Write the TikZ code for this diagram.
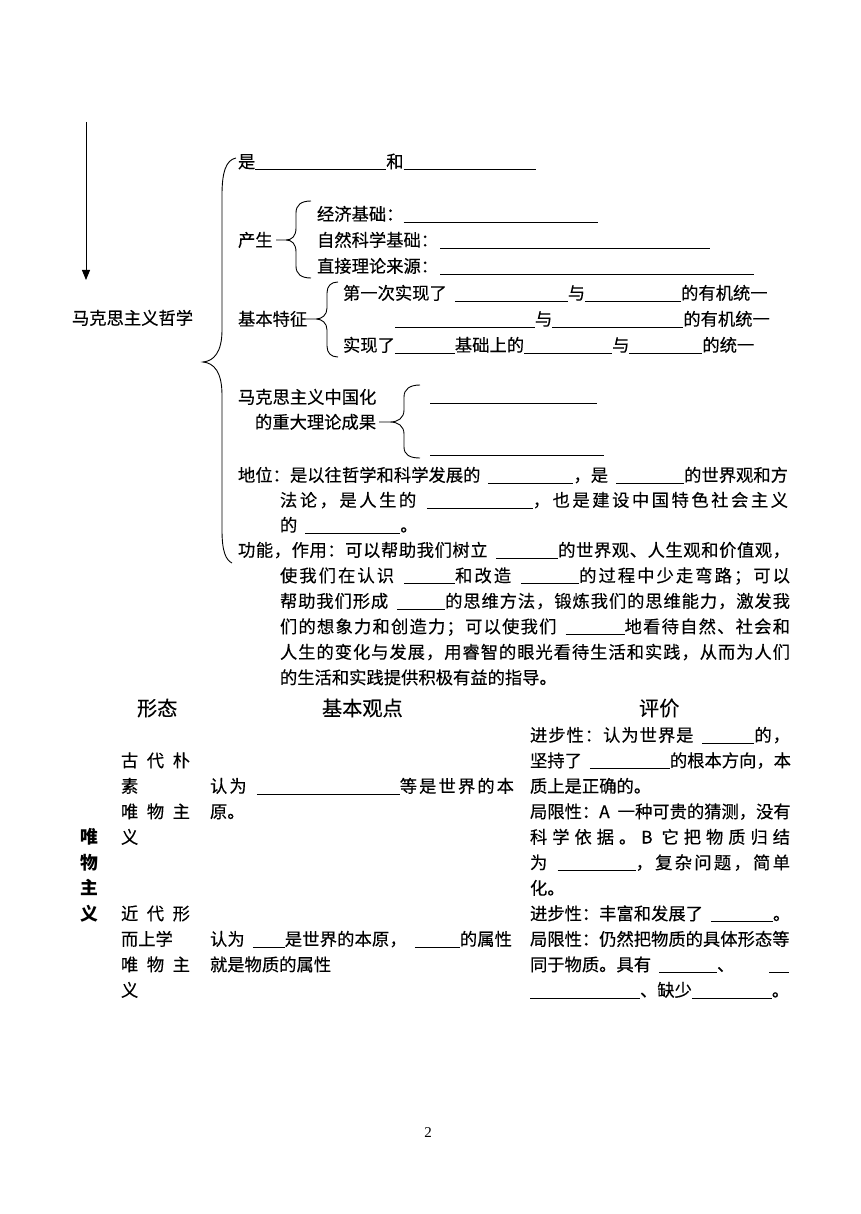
\documentclass[tikz,border=0pt]{standalone}
\usepackage{fontspec}
\usetikzlibrary{arrows.meta}
\setmainfont[FakeBold=0.3]{Noto Sans CJK SC}
\newfontfamily\timesfont{Liberation Serif}
\newfontfamily\boldcjk{Noto Sans CJK SC}
\XeTeXinterchartokenstate=1
\makeatletter
\count@="3000
\loop \XeTeXcharclass\count@=7 \ifnum\count@<"303F \advance\count@ 1 \repeat
\count@="4E00
\loop \XeTeXcharclass\count@=7 \ifnum\count@<"9FFF \advance\count@ 1 \repeat
\count@="FF00
\loop \XeTeXcharclass\count@=7 \ifnum\count@<"FFEF \advance\count@ 1 \repeat
\makeatother
\XeTeXinterchartoks 7 7 = {\hskip0pt plus 1pt\relax}
\newcommand\blank[1]{\rule[-2.2pt]{#1pt}{0.9pt}}
\newcommand\jline[2]{\makebox[#1pt][s]{#2}}
\newcommand\gap{\hskip 8pt plus 1pt\relax}
\newcommand\sgl{\hskip 0pt plus 1pt\relax}
\tikzset{
  txt/.style={inner sep=0pt, outer sep=0pt, anchor=base west, font=\fontsize{17.3}{20}\selectfont},
  hdr/.style={txt, font=\fontsize{20.2}{24}\selectfont},
  bold/.style={txt, font=\boldcjk\fontsize{17.8}{20}\selectfont\bfseries},
  brc/.style={line width=0.9pt},
}
\begin{document}
\begin{tikzpicture}[x=1pt,y=-1pt]
\useasboundingbox (0,0) rectangle (860,1214);
\fill[white] (0,0) rectangle (860,1214);
% arrow
\coordinate (atop) at (86,122);
\coordinate (abot) at (86,280);
\draw[line width=0.9pt, -{Triangle[length=10pt,width=8pt]}] (atop) -- (abot);
\node[txt] (zx) at (72,324.5) {马克思主义哲学};
% big brace
\draw[brc] (236,158) .. controls (226,160) and (222,172) .. (222,195) -- (222,330)
  .. controls (222,352) and (214,361) .. (203,362)
  .. controls (214,363) and (222,372) .. (222,395) -- (222,530)
  .. controls (222,552) and (226,560) .. (232,563);
% 是 row
\node[txt] (shi) at (238,168) {是\blank{131}和\blank{132}};
% 产生
\node[txt] (cs) at (238,246.5) {产生};
\draw[brc] (311,201) .. controls (301,201) and (296,205) .. (296,213) -- (296,228)
  .. controls (296,236) and (292,240) .. (286,240) -- (276,240) -- (286,240)
  .. controls (292,240) and (296,244) .. (296,252) -- (296,266)
  .. controls (296,274) and (301,278) .. (311,278);
\node[txt] (jj) at (317,220.5) {经济基础：\blank{194}};
\node[txt] (zr) at (317,246.5) {自然科学基础：\hspace{2pt}\blank{270}};
\node[txt] (zj) at (317,272.5) {直接理论来源：\hspace{2pt}\blank{314}};
% 基本特征
\node[txt] (tz) at (238,325.5) {基本特征};
\draw[brc] (338,282) .. controls (331,282) and (327,286) .. (327,293) -- (327,308)
  .. controls (327,315) and (322,319) .. (316,319) -- (306,319) -- (316,319)
  .. controls (322,319) and (327,323) .. (327,330) -- (327,346)
  .. controls (327,353) and (331,357) .. (338,357);
\node[txt] (tz1) at (343,299.5) {第一次实现了\gap\blank{113}与\blank{96}的有机统一};
\node[txt] (tz2) at (395,325.5) {\blank{140}与\blank{131}的有机统一};
\node[txt] (tz3) at (343,351.5) {实现了\blank{60}基础上的\blank{88}与\blank{73}的统一};
% 中国化
\node[txt] (zg1) at (238,403.5) {马克思主义中国化};
\node[txt] (zg2) at (255,428.5) {的重大理论成果};
\draw[brc] (420,385) .. controls (410,385) and (404,389) .. (404,397) -- (404,410)
  .. controls (404,418) and (398,422) .. (390,422) -- (379,422) -- (390,422)
  .. controls (398,422) and (404,426) .. (404,434) -- (404,447)
  .. controls (404,455) and (410,458) .. (420,458);
\node[txt] (cg1) at (430,402) {\blank{167}};
\node[txt] (cg2) at (430,454) {\blank{174}};
% 地位
\node[txt] (dw1) at (238,481.5) {\jline{550}{地位：是以往哲学和科学发展的\gap\blank{85}，是\gap\blank{68}的世界观和方}};
\node[txt] (dw2) at (280,506.5) {\jline{508}{法论，是人生的\gap\blank{106}，也是建设中国特色社会主义}};
\node[txt] (dw3) at (280,531.5) {的\gap\blank{95}。};
% 功能
\node[txt] (gn1) at (238,556.5) {\jline{552}{功能，作用：可以帮助我们树立\gap\blank{62}的世界观、人生观和价值观，}};
\node[txt] (gn2) at (280,582) {\jline{510}{使我们在认识\gap\blank{51}和改造\gap\blank{58}的过程中少走弯路；可以}};
\node[txt] (gn3) at (280,607.5) {\jline{510}{帮助我们形成\gap\blank{48}的思维方法，锻炼我们的思维能力，激发我}};
\node[txt] (gn4) at (280,633) {\jline{510}{们的想象力和创造力；可以使我们\gap\blank{59}地看待自然、社会和}};
\node[txt] (gn5) at (280,658.5) {\jline{510}{人生的变化与发展，用睿智的眼光看待生活和实践，从而为人们}};
\node[txt] (gn6) at (280,684) {的生活和实践提供积极有益的指导。};
% table headers
\node[hdr] (h1) at (137,715.7) {形态};
\node[hdr] (h2) at (322,715.7) {基本观点};
\node[hdr] (h3) at (639,715.7) {评价};
% left vertical
\node[bold] (w1) at (80,843.5) {唯};
\node[bold] (w2) at (80,869) {物};
\node[bold] (w3) at (80,894.5) {主};
\node[bold] (w4) at (80,920) {义};
% form column
\node[txt] (f1) at (121,767) {\makebox[69pt][s]{古代朴}};
\node[txt] (f2) at (121,792.5) {素};
\node[txt] (f3) at (121,818) {\makebox[69pt][s]{唯物主}};
\node[txt] (f4) at (121,843.5) {义};
\node[txt] (f5) at (121,920) {\makebox[69pt][s]{近代形}};
\node[txt] (f6) at (121,945.5) {而上学};
\node[txt] (f7) at (121,971) {\makebox[69pt][s]{唯物主}};
\node[txt] (f8) at (121,996.5) {义};
% view column
\node[txt] (v1) at (210,792.5) {\jline{304}{认为\gap\blank{143}等是世界的本}};
\node[txt] (v2) at (210,818) {原。};
\node[txt] (v3) at (210,945.5) {\jline{302}{认为\gap\blank{32}是世界的本原，\gap\blank{45}的属性}};
\node[txt] (v4) at (210,971) {就是物质的属性};
% evaluation column
\node[txt] (e0) at (530,741.5) {\jline{260}{进步性：认为世界是\gap\blank{52}的，}};
\node[txt] (e1) at (530,767) {\jline{258}{坚持了\gap\blank{80}的根本方向，本}};
\node[txt] (e2) at (530,792.5) {质上是正确的。};
\node[txt] (e3) at (530,818) {\jline{260}{局限性：A\gap 一种可贵的猜测，没有}};
\node[txt] (e4) at (530,843.5) {\jline{260}{科学依据。\sgl B\sgl\hskip4pt 它把物质归结}};
\node[txt] (e5) at (530,869) {\jline{260}{为\gap\blank{78}，复杂问题，简单}};
\node[txt] (e6) at (530,894.5) {化。};
\node[txt] (e7) at (530,920) {进步性：丰富和发展了\gap\blank{62}。};
\node[txt] (e8) at (530,945.5) {局限性：仍然把物质的具体形态等};
\node[txt] (e9) at (530,971) {同于物质。具有\gap\blank{58}、\hspace{35pt}\blank{20}};
\node[txt] (e10) at (530,996.5) {\blank{110}、缺少\blank{80}。};
% page number
\node[inner sep=0pt, font=\timesfont\fontsize{15}{18}\selectfont] (pg) at (428,1133) {2};
\end{tikzpicture}
\end{document}
